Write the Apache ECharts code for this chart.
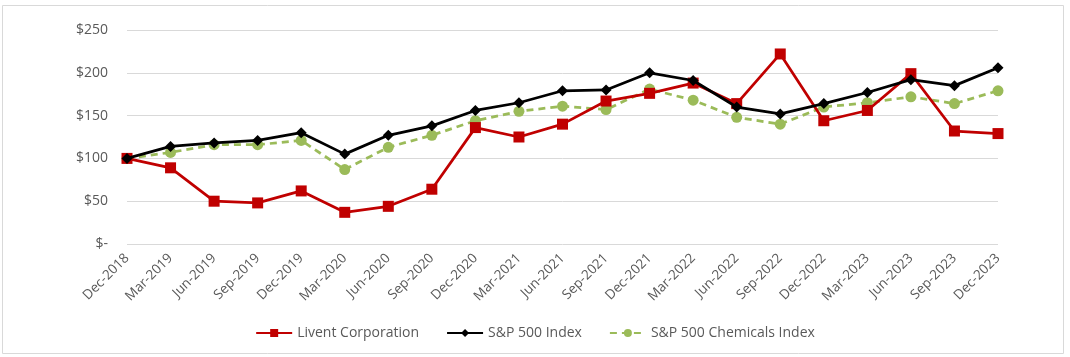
<!DOCTYPE html>
<html><head><meta charset="utf-8">
<script src="https://cdn.jsdelivr.net/npm/echarts@6/dist/echarts.min.js"></script>
<style>html,body{margin:0;padding:0;background:#fff}#c{width:1070px;height:357px}</style>
</head><body><div id="c"></div>
<script>
const categories = ["Dec-2018","Mar-2019","Jun-2019","Sep-2019","Dec-2019","Mar-2020","Jun-2020","Sep-2020","Dec-2020","Mar-2021","Jun-2021","Sep-2021","Dec-2021","Mar-2022","Jun-2022","Sep-2022","Dec-2022","Mar-2023","Jun-2023","Sep-2023","Dec-2023"];
const livent = [100,89,50,48,62,37,44,64,136,125,140,167,176,188,164,222,144,156,199,132,129];
const sp500 = [100,114,118,121,130,105,127,138,156,165,179,180,200,191,160,152,164,177,192,185,206];
const chemicals = [100,107,116,116,121,87,113,127,144,155,161,157,181,168,148,140,160,165,172,164,179];
const yTicks = [0,50,100,150,200,250];

const font = "'Open Sans', 'Noto Sans', sans-serif";
const chart = echarts.init(document.getElementById('c'));
chart.setOption({
  animation:false,
  graphic:[{type:'rect',shape:{x:2.5,y:5.5,width:1061,height:348},style:{fill:'none',stroke:'#d9d9d9',lineWidth:1},silent:true}],
  grid:{left:127,right:72,top:30,bottom:113},
  legend:{bottom:12,left:'center',itemWidth:36,itemHeight:10,itemGap:27,
    textStyle:{fontFamily:font,fontSize:14,color:'#595959'},
    data:['Livent Corporation','S&P 500 Index','S&P 500 Chemicals Index']},
  xAxis:{type:'category',data:categories,boundaryGap:false,
    axisLine:{show:false},axisTick:{show:false},
    axisLabel:{rotate:45,interval:0,margin:12,fontFamily:font,fontSize:13.5,color:'#595959'}},
  yAxis:{type:'value',min:yTicks[0],max:yTicks[yTicks.length-1],interval:50,
    axisLine:{show:false},axisTick:{show:false},
    splitLine:{lineStyle:{color:'#d9d9d9',width:1}},
    axisLabel:{margin:19,fontFamily:font,fontSize:14,color:'#595959',
      formatter:v=> v===0 ? '$-' : '$'+v}},
  series:[
    {name:'Livent Corporation',type:'line',data:livent,symbol:'rect',symbolSize:11,
     lineStyle:{color:'#C00000',width:2.75},itemStyle:{color:'#C00000'},z:3},
    {name:'S&P 500 Index',type:'line',data:sp500,symbol:'diamond',symbolSize:11,
     lineStyle:{color:'#000000',width:2.75},itemStyle:{color:'#000000'},z:4},
    {name:'S&P 500 Chemicals Index',type:'line',data:chemicals,symbol:'circle',symbolSize:11,
     lineStyle:{color:'#9BBB59',width:2.75,type:[7,5]},itemStyle:{color:'#9BBB59'},z:2}
  ]
});
</script></body></html>
